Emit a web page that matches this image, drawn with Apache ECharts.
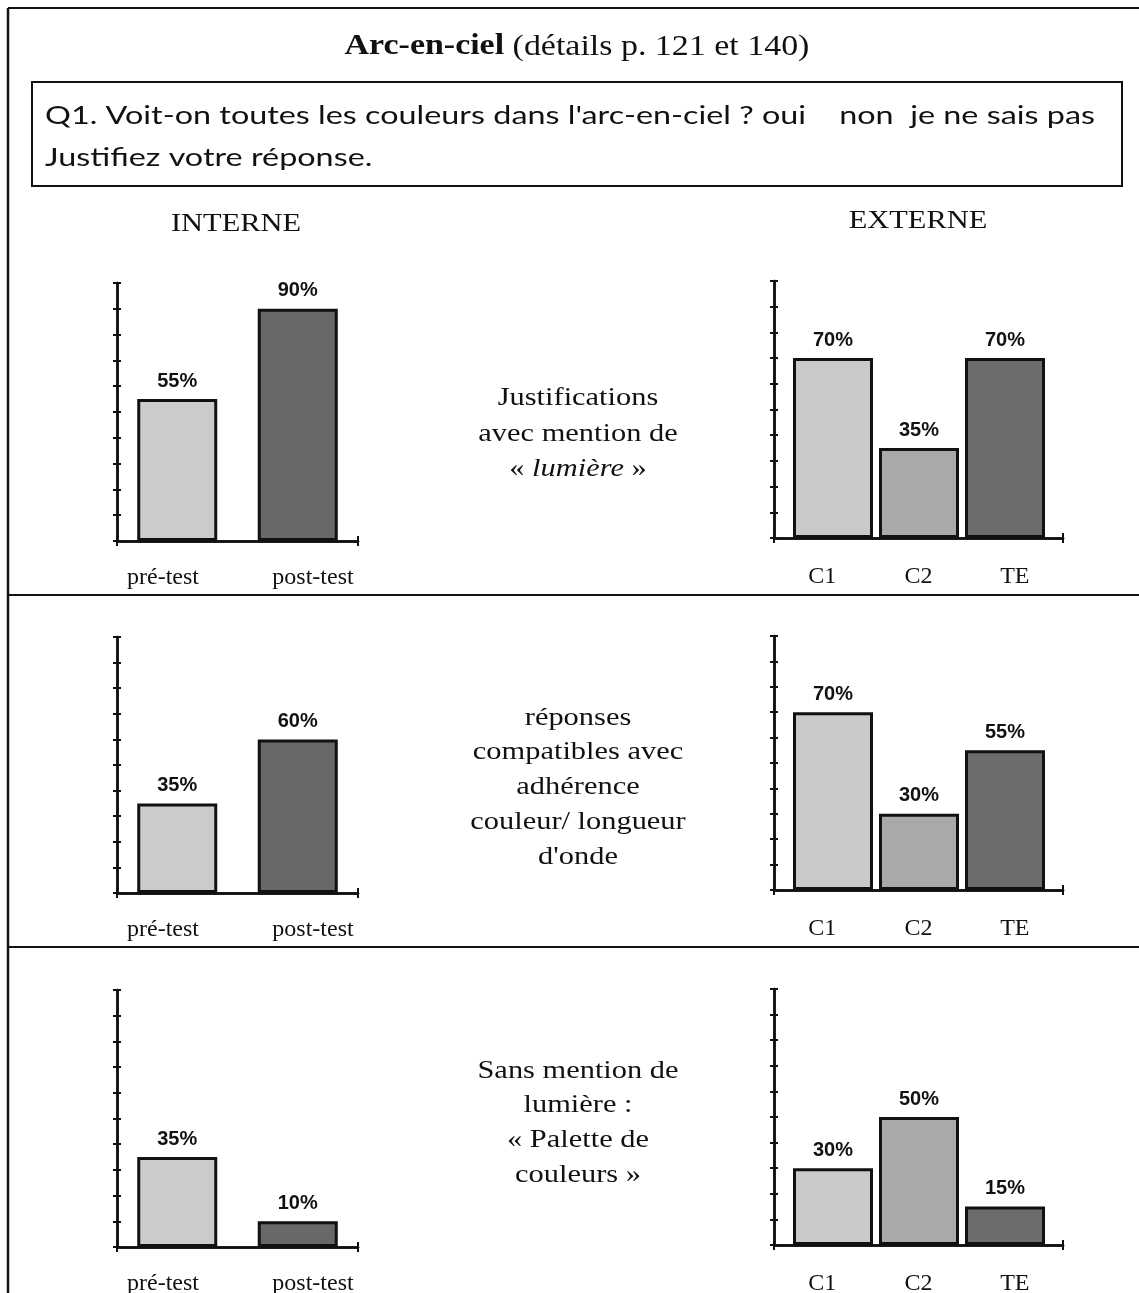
<!DOCTYPE html>
<html>
<head>
<meta charset="utf-8">
<script src="https://cdn.jsdelivr.net/npm/echarts@6/dist/echarts.min.js"></script>
<style>
html,body{margin:0;padding:0;background:#fff;}
#chart{width:1139px;height:1293px;}
</style>
</head>
<body>
<div id="chart"></div>
<script>
// ---------- data ----------
const internCategories = ['pré-test', 'post-test'];
const externCategories = ['C1', 'C2', 'TE'];
const yMin = 0, yMax = 100, yInterval = 10;

const internLumiere   = [55, 90];
const externLumiere   = [70, 35, 70];
const internAdherence = [35, 60];
const externAdherence = [70, 30, 55];
const internPalette   = [35, 10];
const externPalette   = [30, 50, 15];

const titleBold = 'Arc-en-ciel';
const titleRest = ' (détails p. 121 et 140)';
const questionLines = [
  "Q1. Voit-on toutes les couleurs dans l'arc-en-ciel ? oui    non  je ne sais pas",
  'Justifiez votre réponse.'
];
const sideTitles = ['INTERNE', 'EXTERNE'];
const rowTexts = [
  ['Justifications', 'avec mention de', '« {i|lumière} »'],
  ['réponses', 'compatibles avec', 'adhérence', 'couleur/ longueur', "d'onde"],
  ['Sans mention de', 'lumière :', '« Palette de', 'couleurs »']
];

// ---------- styles / layout ----------
const internColors = ['#cbcbcb', '#686868'];
const externColors = ['#c9c9c9', '#a9a9a9', '#6c6c6c'];
const serif = '"Liberation Serif", "Times New Roman", serif';
const sans = '"Liberation Sans", Arial, sans-serif';
const serifScale = 1.17;

const rows = [
  {lTop: 283, lBase: 541, rTop: 281, rBase: 538, textY: [398, 434, 469]},
  {lTop: 637, lBase: 893, rTop: 636, rBase: 890, textY: [718, 752, 787, 822, 857]},
  {lTop: 990, lBase: 1247, rTop: 989, rBase: 1245, textY: [1071, 1105, 1140, 1175]}
];
const internData = [internLumiere, internAdherence, internPalette];
const externData = [externLumiere, externAdherence, externPalette];

const grids = [], xAxes = [], yAxes = [], series = [];
const black = '#111';

function addGrid(left, top, width, height) {
  grids.push({left: left, top: top, width: width, height: height, outerBoundsMode: 'none', containLabel: false});
  return grids.length - 1;
}
function frameAxes(g) {
  [false, true].forEach(function (inside) {
    xAxes.push({gridIndex: g, type: 'value', min: 0, max: 1, interval: 1, position: 'bottom',
      axisLine: {show: true, onZero: false, lineStyle: {color: black, width: 2.5}},
      axisTick: {show: true, inside: inside, length: 5, lineStyle: {color: black, width: 2}},
      axisLabel: {show: false}, splitLine: {show: false}});
    yAxes.push({gridIndex: g, type: 'value', min: yMin, max: yMax, interval: yInterval, position: 'left',
      axisLine: {show: true, onZero: false, lineStyle: {color: black, width: 2.5}},
      axisTick: {show: true, inside: inside, length: 4, lineStyle: {color: black, width: 2}},
      axisLabel: {show: false}, splitLine: {show: false}});
  });
}
function barAxes(g, cats, values, colors, barWidth) {
  xAxes.push({gridIndex: g, type: 'category', data: cats, axisLine: {show: false}, axisTick: {show: false},
    axisLabel: {show: false}, splitLine: {show: false}});
  yAxes.push({gridIndex: g, type: 'value', min: yMin, max: yMax, interval: yInterval, show: false});
  series.push({type: 'bar', xAxisIndex: xAxes.length - 1, yAxisIndex: yAxes.length - 1,
    barWidth: barWidth, silent: true, animation: false,
    data: values.map(function (v, i) {
      return {value: v, itemStyle: {color: colors[i], borderColor: black, borderWidth: 3}};
    }),
    label: {show: true, position: 'top', distance: 8, formatter: '{c}%',
      fontFamily: sans, fontWeight: 'bold', fontSize: 20, color: black}});
}
function labelAxes(g, cats, margin) {
  xAxes.push({gridIndex: g, type: 'category', data: cats, axisLine: {show: false}, axisTick: {show: false},
    splitLine: {show: false},
    axisLabel: {show: true, margin: margin, fontFamily: serif, fontSize: 24, color: black}});
  yAxes.push({gridIndex: g, type: 'value', min: yMin, max: yMax, show: false});
}

rows.forEach(function (r, ri) {
  // INTERNE chart
  const lh = r.lBase - r.lTop;
  const gf = addGrid(117, r.lTop, 241, lh);
  frameAxes(gf);
  const gb = addGrid(117, r.lTop, 241, lh);
  barAxes(gb, internCategories, internData[ri], internColors, 80);
  const gl = addGrid(88, r.lTop, 300, lh);
  labelAxes(gl, internCategories, 25);
  // EXTERNE chart
  const rh = r.rBase - r.rTop;
  const gf2 = addGrid(774, r.rTop, 289, rh);
  frameAxes(gf2);
  const gb2 = addGrid(790, r.rTop, 258, rh);
  barAxes(gb2, externCategories, externData[ri], externColors, 80);
  const gl2 = addGrid(774, r.rTop, 289, rh);
  labelAxes(gl2, externCategories, 27);
});

// ---------- text + frame graphics ----------
const graphics = [];
function serifText(text, x, y, size, extraRich) {
  graphics.push({type: 'text', x: x, y: y, scaleX: serifScale, silent: true,
    style: {text: text, x: 0, y: 0, fill: black, fontFamily: serif, fontSize: size,
      textAlign: 'center', textVerticalAlign: 'middle', align: 'center', verticalAlign: 'middle',
      rich: extraRich || {}}});
}
// title
serifText('{b|' + titleBold + '}' + titleRest, 577, 47, 29,
  {b: {fontFamily: serif, fontSize: 29, fontWeight: 'bold', fill: black}});
// question box text, fitted to the box width
const measureCtx = document.createElement('canvas').getContext('2d');
const qSize = 25;
measureCtx.font = qSize + 'px Lato';
const qScale = 1050 / measureCtx.measureText(questionLines[0]).width;
[116, 158].forEach(function (y, i) {
  graphics.push({type: 'text', x: 45, y: y, scaleX: qScale, silent: true,
    style: {text: questionLines[i], x: 0, y: 0, fill: black, fontFamily: 'Lato', fontSize: qSize,
      textAlign: 'left', textVerticalAlign: 'middle', align: 'left', verticalAlign: 'middle'}});
});
serifText(sideTitles[0], 236, 224, 26);
serifText(sideTitles[1], 918, 221, 26);
rows.forEach(function (r, ri) {
  rowTexts[ri].forEach(function (t, li) {
    serifText(t, 578, r.textY[li], 26, {i: {fontFamily: serif, fontSize: 26, fontStyle: 'italic', fill: black}});
  });
});
// frame lines
function line(x1, y1, x2, y2, w) {
  graphics.push({type: 'line', silent: true, shape: {x1: x1, y1: y1, x2: x2, y2: y2},
    style: {stroke: black, lineWidth: w}});
}
line(8, 8, 1139, 8, 2);
line(8, 8, 8, 1293, 2.5);
line(8, 595, 1139, 595, 2);
line(8, 947, 1139, 947, 2);
graphics.push({type: 'rect', silent: true, shape: {x: 32, y: 82, width: 1090, height: 104},
  style: {fill: 'none', stroke: black, lineWidth: 2}});

const chart = echarts.init(document.getElementById('chart'), null, {renderer: 'canvas'});
chart.setOption({
  backgroundColor: '#fff',
  animation: false,
  grid: grids,
  xAxis: xAxes,
  yAxis: yAxes,
  series: series,
  graphic: {elements: graphics}
});
</script>
</body>
</html>
